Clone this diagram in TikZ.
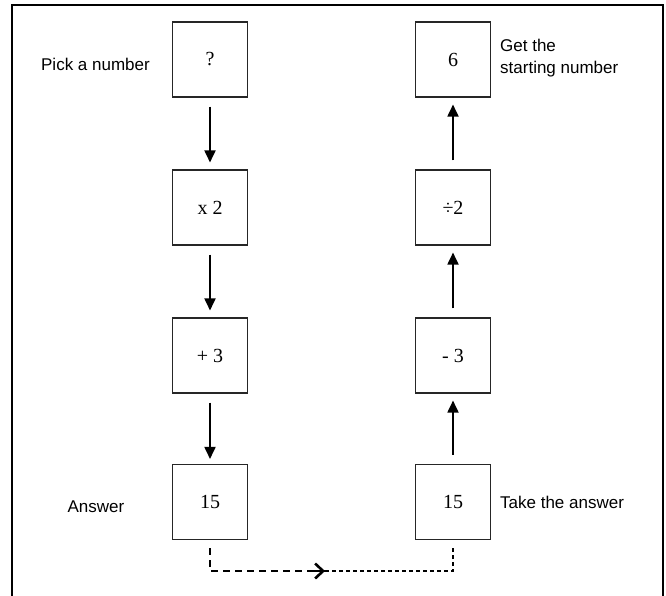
\documentclass[tikz,border=0pt]{standalone}
\usepackage{fontspec}
\setmainfont{Liberation Serif}
\setsansfont{Liberation Sans}
\usetikzlibrary{arrows.meta}
\begin{document}
\begin{tikzpicture}[x=1pt,y=-1pt,
  opbox/.style={draw=black!85,line width=1.1pt,minimum width=75pt,minimum height=75pt,inner sep=0pt,font=\fontsize{20}{22}\selectfont},
  lbl/.style={font=\sffamily\fontsize{17}{22}\selectfont,inner sep=0pt},
  arr/.style={line width=1.8pt,-{Triangle[length=12pt,width=11pt]}},
  dashA/.style={line width=2pt,dash pattern=on 7pt off 5pt},
  dashB/.style={line width=1.4pt,dash pattern=on 4pt off 3pt}]
\useasboundingbox (0,0) rectangle (666,595);
\draw[line width=1.6pt] (12,596) -- (12,5) -- (663,5) -- (663,596);
% left column
\node[opbox] (L1) at (210,59.5) {?};
\node[opbox] (L2) at (210,207.5) {x 2};
\node[opbox] (L3) at (210,355.5) {+ 3};
\node[opbox] (L4) at (210,502) {15};
% right column
\node[opbox] (R1) at (453,59.5) {6};
\node[opbox] (R2) at (453,207.5) {÷2};
\node[opbox] (R3) at (453,355.5) {- 3};
\node[opbox] (R4) at (453,502) {15};
% labels
\node[lbl,anchor=east] (tPick) at (150,64) {Pick a number};
\node[lbl] (tAns) at (96,507) {Answer};
\node[lbl,anchor=west,align=left] (tGet) at (500,58) {Get the\\starting number};
\node[lbl,anchor=west] (tTake) at (500,502) {Take the answer};
% arrows
\draw[arr,shorten <=9pt,shorten >=7pt] (L1) -- (L2);
\draw[arr,shorten <=9pt,shorten >=7pt] (L2) -- (L3);
\draw[arr,shorten <=9pt,shorten >=5pt] (L3) -- (L4);
\draw[arr,shorten <=9pt,shorten >=7pt] (R4) -- (R3);
\draw[arr,shorten <=9pt,shorten >=7pt] (R3) -- (R2);
\draw[arr,shorten <=9pt,shorten >=7pt] (R2) -- (R1);
% dashed transfer
\coordinate (m) at (325,571);
\draw[dashA] ([yshift=-8pt]L4.south) |- (m);
\draw[dashB] (m) -| ([yshift=-8pt]R4.south);
\draw[line width=2.4pt,-{Straight Barb[length=8pt,width=15pt,line width=2.6pt]}] (312,571) -- (m);
\end{tikzpicture}
\end{document}
